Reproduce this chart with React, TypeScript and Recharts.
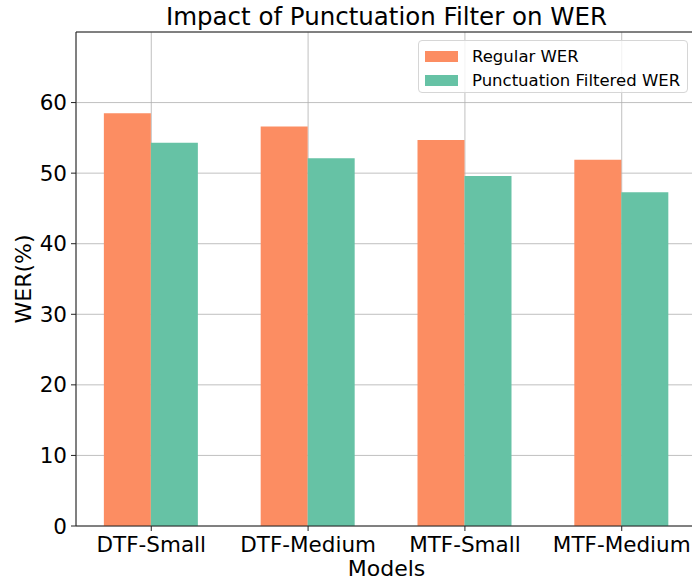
import {
  BarChart,
  Bar,
  XAxis,
  YAxis,
  CartesianGrid,
  ReferenceLine,
} from "recharts";

const models = ["DTF-Small", "DTF-Medium", "MTF-Small", "MTF-Medium"];
const regularWER = [58.5, 56.6, 54.7, 51.9];
const filteredWER = [54.3, 52.1, 49.6, 47.3];
const yTicks = [0, 10, 20, 30, 40, 50, 60];

const seriesNames = ["Regular WER", "Punctuation Filtered WER"];
const seriesColors = ["#fc8d62", "#66c2a5"];

const FONT = "'DejaVu Sans', sans-serif";

const data = models.map((model, i) => ({
  x: i,
  model,
  regular: regularWER[i],
  filtered: filteredWER[i],
}));

const YLabel = (props: any) => {
  const vb = props.viewBox || {};
  const cy = (vb.y ?? 32) + (vb.height ?? 494) / 2;
  return (
    <text
      x={23}
      y={cy}
      transform={`rotate(-90 23 ${cy})`}
      textAnchor="middle"
      dominantBaseline="central"
      fontSize={22}
      fontFamily={FONT}
      fill="#000"
    >
      WER(%)
    </text>
  );
};

const App = () => {
  return (
    <div
      style={{
        position: "absolute",
        left: 0,
        top: 0,
        width: 692,
        height: 581,
        overflow: "hidden",
        background: "#fff",
        fontFamily: FONT,
      }}
    >
      <div
        style={{
          position: "absolute",
          left: 76,
          width: 621,
          top: 2,
          textAlign: "center",
          fontSize: 24.5,
          lineHeight: "30px",
          color: "#000",
        }}
      >
        Impact of Punctuation Filter on WER
      </div>

      <BarChart
        width={700}
        height={581}
        data={data}
        barGap={0}
        margin={{ top: 32, right: 3, bottom: 0, left: 0 }}
      >
        <XAxis
          type="number"
          dataKey="x"
          domain={[-0.48, 3.48]}
          ticks={[0, 1, 2, 3]}
          tickFormatter={(v: number) => models[v]}
          interval={0}
          height={55}
          tickSize={5}
          tickMargin={6}
          axisLine={{ stroke: "#222", strokeWidth: 1 }}
          tickLine={{ stroke: "#222" }}
          tick={{ fontSize: 21.5, fill: "#000", fontFamily: FONT }}
          label={{
            value: "Models",
            position: "insideBottom",
            offset: 5,
            fontSize: 22,
            fill: "#000",
            fontFamily: FONT,
          }}
        />
        <YAxis
          domain={[0, 70]}
          ticks={yTicks}
          width={76}
          tickSize={5}
          tickMargin={4}
          axisLine={{ stroke: "#222", strokeWidth: 1 }}
          tickLine={{ stroke: "#222" }}
          tick={{ fontSize: 21.5, fill: "#000", fontFamily: FONT }}
          label={<YLabel />}
        />
        <Bar
          dataKey="regular"
          name={seriesNames[0]}
          fill={seriesColors[0]}
          barSize={47}
          isAnimationActive={false}
        />
        <Bar
          dataKey="filtered"
          name={seriesNames[1]}
          fill={seriesColors[1]}
          barSize={47}
          isAnimationActive={false}
        />
        <CartesianGrid stroke="#b0b0b0" strokeWidth={0.8} />
        <ReferenceLine y={70} stroke="#222" strokeWidth={1} />
      </BarChart>

      <div
        style={{
          position: "absolute",
          left: 418,
          top: 40,
          width: 270,
          height: 53,
          boxSizing: "border-box",
          border: "1px solid #d6d6d6",
          borderRadius: 4,
          background: "rgba(255,255,255,0.8)",
          padding: "4px 0 0 6px",
        }}
      >
        {seriesNames.map((name, i) => (
          <div
            key={name}
            style={{
              display: "flex",
              alignItems: "center",
              height: 23.5,
              fontSize: 16.5,
              color: "#000",
            }}
          >
            <span
              style={{
                display: "inline-block",
                width: 33,
                height: 11,
                background: seriesColors[i],
                marginRight: 14,
              }}
            />
            {name}
          </div>
        ))}
      </div>
    </div>
  );
};

export default App;
